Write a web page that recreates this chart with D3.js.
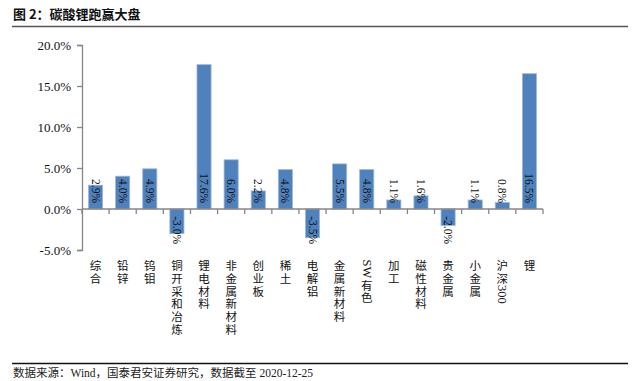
<!DOCTYPE html>
<html><head><meta charset="utf-8">
<script src="https://cdn.jsdelivr.net/npm/d3@7"></script>
<style>
html,body{margin:0;padding:0;background:#fff;}
svg{display:block;}
</style></head>
<body>
<svg id="c" width="640" height="381"></svg>
<script>
const categories = ["综合","铅锌","钨钼","铜开采和冶炼","锂电材料","非金属新材料","创业板","稀土","电解铝","金属新材料","SW有色","加工","磁性材料","贵金属","小金属","沪深300","锂"];
const values = [2.9, 4.0, 4.9, -3.0, 17.6, 6.0, 2.2, 4.8, -3.5, 5.5, 4.8, 1.1, 1.6, -2.0, 1.1, 0.8, 16.5];
const yTicks = [-5, 0, 5, 10, 15, 20];
const titleText = "图 2：碳酸锂跑赢大盘";
const sourceText = "数据来源：Wind，国泰君安证券研究，数据截至 2020-12-25";

const svg = d3.select("#c");
const serif = "'Liberation Serif','Times New Roman',serif";
const cjk = "'Noto Sans CJK SC','Noto Sans CJK TC',sans-serif";
const mixed = "'Liberation Serif','Noto Sans CJK SC',serif";

// title
svg.append("text").attr("x", 13).attr("y", 18.5)
  .attr("font-family", cjk).attr("font-weight", "bold").attr("font-size", 13)
  .attr("fill", "#111").text(titleText);
svg.append("line").attr("x1", 12).attr("x2", 628).attr("y1", 26.5).attr("y2", 26.5)
  .attr("stroke", "#555").attr("stroke-width", 1.6);

// bottom
svg.append("line").attr("x1", 12).attr("x2", 628).attr("y1", 363.5).attr("y2", 363.5)
  .attr("stroke", "#111").attr("stroke-width", 1.4);
svg.append("text").attr("x", 13).attr("y", 377)
  .attr("font-family", mixed).attr("font-size", 11.5).attr("fill", "#222")
  .text(sourceText);

const x = d3.scaleBand().domain(categories).range([82, 543]).paddingInner(0.48).paddingOuter(0.24);
const y = d3.scaleLinear().domain([-5, 20]).range([250, 45]);

const axisColor = "#868686";

// y axis
const ya = svg.append("g").attr("transform", "translate(82,0)")
  .call(d3.axisLeft(y).tickValues(yTicks).tickSize(5).tickPadding(6)
    .tickFormat(d => d.toFixed(1) + "%"));
ya.select(".domain").attr("stroke", axisColor).attr("stroke-width", 1.3);
ya.selectAll(".tick line").attr("stroke", axisColor).attr("stroke-width", 1.3);
ya.selectAll(".tick text").attr("font-family", serif).attr("font-size", 13).attr("fill", "#111");

// bars
svg.append("g").selectAll("rect").data(values).join("rect")
  .attr("x", (d, i) => x(categories[i]))
  .attr("width", x.bandwidth())
  .attr("y", d => y(Math.max(0, d)))
  .attr("height", d => Math.abs(y(d) - y(0)))
  .attr("fill", "#4F81BD")
  .attr("stroke", "#9DB6DA").attr("stroke-width", 0.8);

// x axis at zero with ticks at band boundaries
const step = x.step();
const x0 = 82;
const xa = svg.append("g");
xa.append("line").attr("x1", x0).attr("x2", 543).attr("y1", y(0)).attr("y2", y(0))
  .attr("stroke", axisColor).attr("stroke-width", 1.3);
xa.selectAll("line.tk").data(d3.range(categories.length + 1)).join("line").attr("class", "tk")
  .attr("x1", i => x0 + i * step).attr("x2", i => x0 + i * step)
  .attr("y1", y(0)).attr("y2", y(0) + 5)
  .attr("stroke", axisColor).attr("stroke-width", 1.3);

// data labels rotated
svg.append("g").selectAll("text").data(values).join("text")
  .attr("transform", (d, i) => {
    const cx = x(categories[i]) + x.bandwidth() / 2;
    const yy = d >= 0 ? y(0) - 6 : y(0) + 35;
    return `translate(${cx},${yy}) rotate(90)`;
  })
  .attr("text-anchor", "end").attr("dominant-baseline", "central")
  .attr("font-family", serif).attr("font-size", 11.5).attr("fill", "#111")
  .text(d => d.toFixed(1) + "%");

// category labels: CJK characters stacked upright, Latin runs rotated
const lab = svg.append("g");
categories.forEach((c, i) => {
  const cx = x(c) + x.bandwidth() / 2;
  let yy = 259.5;
  const tokens = c.match(/[\x00-\x7F]+|./g);
  tokens.forEach(t => {
    if (/^[\x00-\x7F]+$/.test(t)) {
      const tx = lab.append("text")
        .attr("font-family", serif).attr("font-size", 12.5).attr("fill", "#111")
        .attr("dominant-baseline", "central").attr("text-anchor", "start")
        .text(t);
      const len = tx.node().getComputedTextLength();
      tx.attr("transform", `translate(${cx},${yy}) rotate(90)`);
      yy += len + 1;
    } else {
      lab.append("text").attr("x", cx).attr("y", yy + 6.4)
        .attr("font-family", mixed).attr("font-size", 11.5).attr("fill", "#111")
        .attr("text-anchor", "middle").attr("dominant-baseline", "central")
        .text(t);
      yy += 12.8;
    }
  });
});
</script>
</body></html>
